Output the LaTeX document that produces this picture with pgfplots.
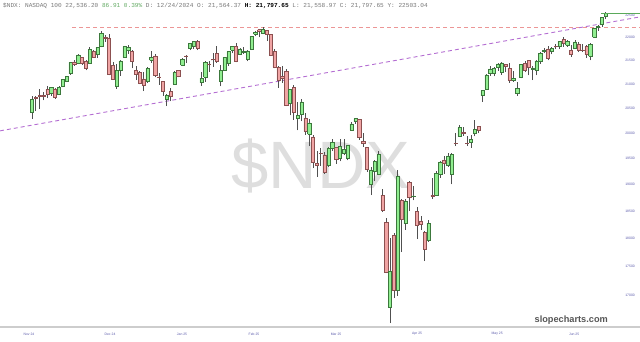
\documentclass[border=0pt]{standalone}
\usepackage{pgfplots}
\usepackage{pgfplotstable}
\pgfplotsset{compat=1.18}
\usepackage{fontspec}
\setmainfont{Liberation Sans}
\newfontfamily\monofont{Liberation Mono}

\definecolor{upfill}{RGB}{144,238,144}
\definecolor{upedge}{RGB}{60,120,60}
\definecolor{dnfill}{RGB}{240,164,164}
\definecolor{dnedge}{RGB}{140,80,80}
\definecolor{wickc}{RGB}{80,80,80}
\definecolor{pinkd}{RGB}{236,150,150}
\definecolor{purpd}{RGB}{180,110,210}
\definecolor{lastg}{RGB}{90,170,90}
\definecolor{ticklab}{RGB}{90,90,170}
\definecolor{axisg}{RGB}{205,205,205}
\definecolor{hdrgray}{RGB}{120,120,120}
\definecolor{hdrgreen}{RGB}{100,170,100}
\definecolor{wm}{RGB}{222,222,222}

\pgfplotstableread{
i o h l c
0 20410 20740 20280 20680
1 20720 20760 20440 20700
2 20760 20900 20480 20740
3 20770 20830 20660 20744
4 20890 20960 20700 20778
5 20800 20930 20760 20922
6 20900 20910 20690 20734
7 20780 20960 20770 20930
8 20950 21110 20930 21104
9 21060 21170 21040 21162
10 21220 21470 21200 21461
11 21470 21520 21390 21411
12 21440 21640 21430 21622
13 21560 21580 21400 21441
14 21480 21500 21290 21338
15 21450 21780 21440 21741
16 21700 21720 21560 21568
17 21640 21790 21560 21780
18 21800 22133 21780 22096
19 22000 22060 21900 21979
20 21990 22080 21180 21209
21 21400 21460 21090 21110
22 20950 21420 20900 21289
23 21300 21510 21170 21490
24 21564 21798 21559 21798
25 21720 21830 21640 21784
26 21700 21720 21330 21493
27 21290 21370 21080 21208
28 21250 21280 20990 21012
29 21110 21260 20850 20973
30 21050 21350 21020 21326
31 21500 21700 21450 21570
32 21600 21640 21140 21180
33 21150 21230 20980 21149
34 21050 21070 20750 20847
35 20680 20800 20540 20757
36 20850 20910 20640 20738
37 21000 21270 20980 21238
38 21290 21300 21140 21164
39 21400 21560 21380 21525
40 21600 21620 21440 21585
41 21760 21880 21720 21870
42 21810 21910 21740 21908
43 21920 21940 21720 21773
44 21030 21250 20960 21123
45 21150 21490 21050 21454
46 21420 21480 21260 21410
47 21520 21660 21360 21515
48 21650 21810 21450 21478
49 21050 21400 20950 21286
50 21300 21580 21280 21566
51 21440 21690 21380 21688
52 21720 21810 21650 21809
53 21800 21880 21460 21491
54 21640 21760 21620 21749
55 21670 21780 21640 21694
56 21520 21730 21480 21708
57 21750 22040 21720 22030
58 22070 22150 22030 22115
59 22170 22180 22000 22141
60 22100 22222 22070 22176
61 22160 22170 21920 22062
62 22070 22080 21590 21614
63 21700 21740 21330 21353
64 21350 21380 20920 21080
65 21160 21380 21030 21130
66 21270 21320 20540 20551
67 20600 20890 20350 20884
68 20930 20980 20260 20413
69 20300 20620 20050 20353
70 20370 20690 20230 20628
71 20300 20410 19970 20026
72 19980 20270 19740 20201
73 19920 19960 19310 19431
74 19400 19640 19150 19360
75 19600 19700 19360 19593
76 19570 19620 19200 19226
77 19360 19730 19340 19705
78 19690 19890 19650 19812
79 19710 19720 19400 19483
80 19500 19880 19440 19736
81 19590 19890 19560 19677
82 19500 19770 19460 19753
83 20060 20220 20040 20180
84 20230 20300 20180 20287
85 20270 20280 19860 19917
86 19830 19990 19730 19799
87 19710 19730 19240 19282
88 19000 19340 18800 19278
89 19250 19460 19060 19436
90 19200 19640 19180 19581
91 18800 18910 18480 18521
92 18300 18380 17390 17398
93 16800 18000 16542 17430
94 18050 18100 16960 17090
95 17100 19270 17000 19145
96 18700 18720 17760 18344
97 18270 18730 18160 18690
98 19040 19060 18500 18759
99 18770 18970 18700 18780
100 18500 18570 17990 18236
101 18320 18400 18150 18258
102 18110 18130 17600 17808
103 17970 18340 17940 18277
104 18800 19130 18720 18768
105 18800 19250 18780 19212
106 19200 19450 19120 19432
107 19470 19540 19200 19410
108 19360 19600 19330 19547
109 19200 19600 19000 19571
110 19800 19990 19740 19790
111 19930 20150 19920 20103
112 20010 20110 19940 19999
113 19800 19940 19740 19792
114 19820 19970 19710 19867
115 19990 20250 19930 20064
116 20130 20140 19990 20062
117 20760 20880 20630 20869
118 20900 21220 20880 21192
119 21220 21370 21170 21320
120 21230 21360 21160 21336
121 21360 21440 21280 21427
122 21250 21470 21200 21447
123 21410 21430 21250 21367
124 21330 21440 21030 21082
125 21080 21270 21050 21113
126 20800 21040 20760 20915
127 21150 21420 21120 21414
128 21430 21480 21250 21296
129 21500 21520 21180 21364
130 21320 21380 21080 21341
131 21280 21500 21180 21492
132 21480 21680 21430 21652
133 21690 21760 21660 21719
134 21750 21820 21500 21547
135 21690 21800 21630 21762
136 21800 21850 21740 21799
137 21810 21930 21750 21914
138 21950 22010 21800 21867
139 21830 21940 21800 21913
140 21720 21840 21580 21631
141 21760 21950 21750 21901
142 21860 21910 21680 21720
143 21730 21860 21680 21719
144 21800 21840 21550 21626
145 21600 21870 21500 21849
146 22000 22200 21990 22191
147 22230 22270 22150 22238
148 22290 22460 22240 22447
149 22480 22560 22400 22536
}\ohlc

\begin{document}
\begin{tikzpicture}[x=1pt,y=1pt]
\path[use as bounding box] (0,-15) rectangle (640,327);
\node[font=\fontsize{67}{67}\selectfont, text=wm, inner sep=0pt] at (321,161) {\$NDX};
\begin{axis}[
  at={(0,0)}, anchor=south west,
  width=640pt, height=327pt, scale only axis,
  xmin=-8.31, xmax=157.9,
  ymode=log, ymin=16480, ymax=22839,
  axis x line=bottom, axis y line=right,
  x axis line style={draw=axisg, line width=2pt, -},
  y axis line style={draw=none},
  tick style={draw=none},
  major tick length=0pt,
  ytick={17000,17500,18000,18500,19000,19500,20000,20500,21000,21500,22000,22500},
  yticklabels={17000,17500,18000,18500,19000,19500,20000,20500,21000,21500,22000,22500},
  yticklabel style={anchor=east, xshift=-5pt, inner sep=0pt, text=ticklab, font=\fontsize{3.4}{4}\selectfont},
  xtick={-0.78,20.26,38.96,57.66,78.96,100.0,120.8,140.8},
  xticklabels={Nov 24,Dec 24,Jan 25,Feb 25,Mar 25,Apr 25,May 25,Jun 25},
  xticklabel style={anchor=center, yshift=-7pt, inner sep=0pt, text=ticklab, font=\fontsize{3.4}{4}\selectfont},
  wick/.style={draw=wickc, line width=0.7pt},
]
\addplot[draw=pinkd, line width=1pt, dash pattern=on 4pt off 3pt] coordinates {(10.4,22222) (157.9,22222)};
\addplot[draw=purpd, line width=0.9pt, dash pattern=on 4pt off 3pt] coordinates {(-8.31,20040) (157.9,22455)};
\pgfplotsinvokeforeach{0,...,149}{
  \pgfplotstablegetelem{#1}{o}\of\ohlc \edef\vo{\pgfplotsretval}
  \pgfplotstablegetelem{#1}{h}\of\ohlc \edef\vh{\pgfplotsretval}
  \pgfplotstablegetelem{#1}{l}\of\ohlc \edef\vl{\pgfplotsretval}
  \pgfplotstablegetelem{#1}{c}\of\ohlc \edef\vc{\pgfplotsretval}
  \ifnum\vc<\vo\relax \def\fc{dnfill}\def\ec{dnedge}\else\def\fc{upfill}\def\ec{upedge}\fi
  \pgfmathsetmacro\xl{#1-0.42}
  \pgfmathsetmacro\xr{#1+0.42}
  \edef\tmp{\noexpand\addplot[wick] coordinates {(#1,\vl) (#1,\vh)};
    \noexpand\addplot[draw=\ec, fill=\fc, line width=0.5pt] coordinates {(\xl,\vo) (\xr,\vo) (\xr,\vc) (\xl,\vc) (\xl,\vo)};}
  \tmp
}
\addplot[draw=lastg, line width=1.3pt] coordinates {(147.8,22536) (157.9,22536)};
\end{axis}
\node[anchor=west, font=\monofont\fontsize{6.1}{7}\selectfont, text=hdrgray, inner sep=0pt] at (3,321) {\$NDX: NASDAQ 100 22,536.20 \textcolor{hdrgreen}{86.91 0.39\%} D: 12/24/2024 O: 21,564.37 \textcolor{black}{\textbf{H: 21,797.65}} L: 21,558.97 C: 21,797.65 Y: 22503.04};
\node[anchor=east, font=\bfseries\fontsize{9.2}{10}\selectfont, text={rgb,255:red,85;green,85;blue,85}, inner sep=0pt] at (608,7) {slopecharts.com};
\end{tikzpicture}
\end{document}
